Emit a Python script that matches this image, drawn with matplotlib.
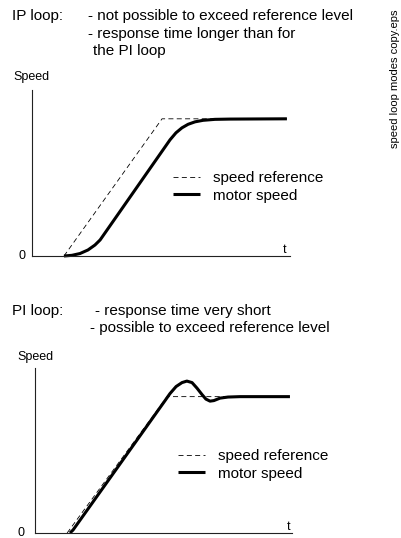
import matplotlib.pyplot as plt

plt.rcParams['font.family'] = ['Liberation Sans', 'DejaVu Sans']

# IP loop: speed reference ramp and motor speed response (time units, speed normalised to 1)
ip_ref_t = [1.24, 5.04, 9.88]
ip_ref_s = [0.0, 1.0, 1.0]
ip_motor_t = [1.24, 1.55, 1.86, 2.17, 2.44, 2.64, 5.35, 5.58, 5.81, 6.05, 6.32, 6.63, 7.09, 7.67, 9.88]
ip_motor_s = [0.0, 0.005, 0.018, 0.044, 0.080, 0.117, 0.847, 0.898, 0.934, 0.960, 0.978, 0.989, 0.996, 0.998, 1.0]

# PI loop: same reference, motor overshoots then settles
pi_ref_t = [1.25, 5.14, 9.92]
pi_ref_s = [0.0, 1.0, 1.0]
pi_motor_t = [1.36, 1.48, 5.06, 5.25, 5.49, 5.72, 5.91, 6.11, 6.30, 6.50, 6.65, 6.81, 6.96, 7.20, 7.51, 7.98, 9.92]
pi_motor_s = [0.0, 0.022, 0.971, 1.022, 1.074, 1.103, 1.114, 1.103, 1.063, 1.015, 0.982, 0.967, 0.971, 0.989, 0.997, 1.0, 1.0]

legend_labels = ["speed reference", "motor speed"]

W, H = 402, 538
fig = plt.figure(figsize=(W / 100, H / 100), dpi=100)


def fx(px):
    return px / W


def fy(py):
    return 1 - py / H


def panel(x0, x1, y_top, y_bot, ref_t, ref_s, mot_t, mot_s, leg_xy):
    ax = fig.add_axes([fx(x0), fy(y_bot), (x1 - x0) / W, (y_bot - y_top) / H])
    ax.set_xlim(0, 10)
    ax.set_ylim(0, 1.21)
    for side in ["top", "right"]:
        ax.spines[side].set_visible(False)
    for side in ["left", "bottom"]:
        ax.spines[side].set_linewidth(0.8)
        ax.spines[side].set_color("#222222")
    ax.set_xticks([])
    ax.set_yticks([])
    ax.patch.set_visible(False)
    ref, = ax.plot(ref_t, ref_s, color="black", lw=0.6, dashes=(6, 4), clip_on=False)
    mot, = ax.plot(mot_t, mot_s, color="black", lw=2.2, solid_capstyle="butt",
                   solid_joinstyle="round", clip_on=False)
    ax.legend([ref, mot], legend_labels, loc="upper left",
              bbox_to_anchor=(fx(leg_xy[0]), fy(leg_xy[1])), bbox_transform=fig.transFigure,
              frameon=False, fontsize=11, handlelength=1.8, handletextpad=0.8,
              labelspacing=0.25, borderpad=0, borderaxespad=0)
    return ax


panel(32, 290, 90, 256, ip_ref_t, ip_ref_s, ip_motor_t, ip_motor_s, (173, 171))
panel(35, 292, 368, 533, pi_ref_t, pi_ref_s, pi_motor_t, pi_motor_s, (178, 449))

# headings
fig.text(fx(12), fy(20), "IP loop:", fontsize=11, va="baseline")
fig.text(fx(88), fy(20), "- not possible to exceed reference level", fontsize=11, va="baseline")
fig.text(fx(88), fy(38), "- response time longer than for", fontsize=11, va="baseline")
fig.text(fx(93), fy(55), "the PI loop", fontsize=11, va="baseline")

fig.text(fx(12), fy(315), "PI loop:", fontsize=11, va="baseline")
fig.text(fx(95), fy(315), "- response time very short", fontsize=11, va="baseline")
fig.text(fx(90), fy(332), "- possible to exceed reference level", fontsize=11, va="baseline")

# axis labels
fig.text(fx(13), fy(80), "Speed", fontsize=9, va="baseline")
fig.text(fx(22), fy(256), "0", fontsize=9, ha="center", va="center")
fig.text(fx(285), fy(253), "t", fontsize=9, ha="center", va="baseline")

fig.text(fx(17), fy(360), "Speed", fontsize=9, va="baseline")
fig.text(fx(21), fy(533), "0", fontsize=9, ha="center", va="center")
fig.text(fx(289), fy(530), "t", fontsize=9, ha="center", va="baseline")

fig.text(fx(395), fy(9), "speed loop modes copy.eps", fontsize=8, rotation=90,
         ha="center", va="top")

fig.savefig("out.png", dpi=100)
